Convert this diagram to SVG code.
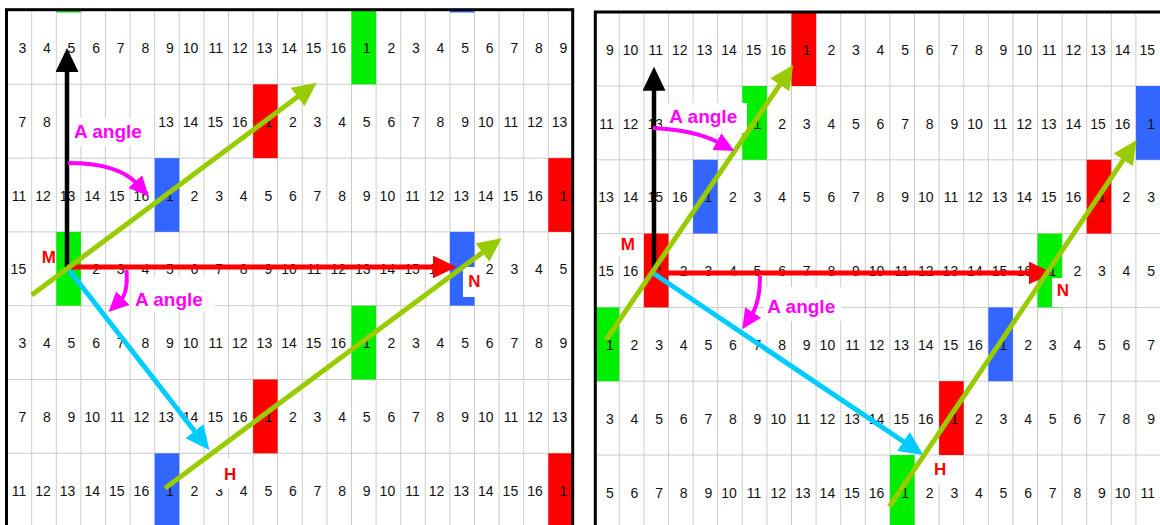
<svg xmlns="http://www.w3.org/2000/svg" width="1160" height="525" viewBox="0 0 1160 525">
<style>
.grid{stroke:#cccccc;stroke-width:1;fill:none}
.n{font-family:"Liberation Sans",Arial,sans-serif;font-size:14px;fill:#111;text-anchor:end}
.lbl{font-family:"Liberation Sans",Arial,sans-serif;font-weight:bold;font-size:19px;fill:#ff00ff}
.pt{font-family:"Liberation Sans",Arial,sans-serif;font-weight:bold;font-size:17px;fill:#ff0000}
.box{fill:#ffffff}
.g{fill:#00ee00}.r{fill:#ff0000}.b{fill:#3366ff}
.arr{fill:none;stroke-linecap:butt}
.k{stroke:#000000;stroke-width:4.5}
.rd{stroke:#ff0000;stroke-width:5}
.cy{stroke:#00ccff;stroke-width:5}
.yg{stroke:#99cc00;stroke-width:5}
.mg{stroke:#ff00ff;stroke-width:4}
.border{fill:none;stroke:#000;stroke-width:3}
</style>
<defs>
<marker id="hk" markerUnits="userSpaceOnUse" viewBox="0 0 24 23" markerWidth="24" markerHeight="23" refX="4" refY="11.5" orient="auto"><path d="M0,0L24,11.5L0,23z" fill="#000"/></marker>
<marker id="hr" markerUnits="userSpaceOnUse" viewBox="0 0 24 23" markerWidth="24" markerHeight="23" refX="4" refY="11.5" orient="auto"><path d="M0,0L24,11.5L0,23z" fill="#ff0000"/></marker>
<marker id="hc" markerUnits="userSpaceOnUse" viewBox="0 0 24 23" markerWidth="24" markerHeight="23" refX="4" refY="11.5" orient="auto"><path d="M0,0L24,11.5L0,23z" fill="#00ccff"/></marker>
<marker id="hy" markerUnits="userSpaceOnUse" viewBox="0 0 24 23" markerWidth="24" markerHeight="23" refX="4" refY="11.5" orient="auto"><path d="M0,0L24,11.5L0,23z" fill="#99cc00"/></marker>
<marker id="hm" markerUnits="userSpaceOnUse" viewBox="0 0 20 19" markerWidth="20" markerHeight="19" refX="3" refY="9.5" orient="auto"><path d="M0,0L20,9.5L0,19z" fill="#ff00ff"/></marker>
</defs>
<rect width="1160" height="525" fill="#fff"/>

<g id="left-panel">
<path class="grid" d="M31.7,10V525M56.3,10V525M80.9,10V525M105.5,10V525M130.1,10V525M154.7,10V525M179.3,10V525M203.9,10V525M228.5,10V525M253.1,10V525M277.7,10V525M302.3,10V525M326.9,10V525M351.5,10V525M376.1,10V525M400.7,10V525M425.3,10V525M449.9,10V525M474.5,10V525M499.1,10V525M523.7,10V525M548.3,10V525M6.5,84.3H573M6.5,158.1H573M6.5,231.9H573M6.5,305.7H573M6.5,379.5H573M6.5,453.3H573"/>
<rect class="g" x="56.3" y="10.5" width="24.6" height="2"/>
<rect class="b" x="449.9" y="10.5" width="24.6" height="2"/>
<rect class="g" x="351.5" y="10.5" width="24.6" height="73.8"/>
<rect class="r" x="253.1" y="84.3" width="24.6" height="73.8"/>
<rect class="b" x="154.7" y="158.1" width="24.6" height="73.8"/>
<rect class="r" x="548.3" y="158.1" width="24.6" height="73.8"/>
<rect class="g" x="56.3" y="231.9" width="24.6" height="73.8"/>
<rect class="b" x="449.9" y="231.9" width="24.6" height="73.8"/>
<rect class="g" x="351.5" y="305.7" width="24.6" height="73.8"/>
<rect class="r" x="253.1" y="379.5" width="24.6" height="73.8"/>
<rect class="b" x="154.7" y="453.3" width="24.6" height="73.8"/>
<rect class="r" x="548.3" y="453.3" width="24.6" height="73.8"/>
<text class="n" y="53"><tspan x="26.2">3</tspan><tspan x="50.8">4</tspan><tspan x="75.4">5</tspan><tspan x="100">6</tspan><tspan x="124.6">7</tspan><tspan x="149.2">8</tspan><tspan x="173.8">9</tspan><tspan x="198.4">10</tspan><tspan x="223">11</tspan><tspan x="247.6">12</tspan><tspan x="272.2">13</tspan><tspan x="296.8">14</tspan><tspan x="321.4">15</tspan><tspan x="346">16</tspan><tspan x="370.6">1</tspan><tspan x="395.2">2</tspan><tspan x="419.8">3</tspan><tspan x="444.4">4</tspan><tspan x="469">5</tspan><tspan x="493.6">6</tspan><tspan x="518.2">7</tspan><tspan x="542.8">8</tspan><tspan x="567.4">9</tspan></text>
<text class="n" y="126.8"><tspan x="26.2">7</tspan><tspan x="50.8">8</tspan><tspan x="173.8">13</tspan><tspan x="198.4">14</tspan><tspan x="223">15</tspan><tspan x="247.6">16</tspan><tspan x="272.2">1</tspan><tspan x="296.8">2</tspan><tspan x="321.4">3</tspan><tspan x="346">4</tspan><tspan x="370.6">5</tspan><tspan x="395.2">6</tspan><tspan x="419.8">7</tspan><tspan x="444.4">8</tspan><tspan x="469">9</tspan><tspan x="493.6">10</tspan><tspan x="518.2">11</tspan><tspan x="542.8">12</tspan><tspan x="567.4">13</tspan></text>
<text class="n" y="200.6"><tspan x="26.2">11</tspan><tspan x="50.8">12</tspan><tspan x="75.4">13</tspan><tspan x="100">14</tspan><tspan x="124.6">15</tspan><tspan x="149.2">16</tspan><tspan x="173.8">1</tspan><tspan x="198.4">2</tspan><tspan x="223">3</tspan><tspan x="247.6">4</tspan><tspan x="272.2">5</tspan><tspan x="296.8">6</tspan><tspan x="321.4">7</tspan><tspan x="346">8</tspan><tspan x="370.6">9</tspan><tspan x="395.2">10</tspan><tspan x="419.8">11</tspan><tspan x="444.4">12</tspan><tspan x="469">13</tspan><tspan x="493.6">14</tspan><tspan x="518.2">15</tspan><tspan x="542.8">16</tspan><tspan x="567.4">1</tspan></text>
<text class="n" y="274.4"><tspan x="26.2">15</tspan><tspan x="75.4">1</tspan><tspan x="100">2</tspan><tspan x="124.6">3</tspan><tspan x="149.2">4</tspan><tspan x="173.8">5</tspan><tspan x="198.4">6</tspan><tspan x="223">7</tspan><tspan x="247.6">8</tspan><tspan x="272.2">9</tspan><tspan x="296.8">10</tspan><tspan x="321.4">11</tspan><tspan x="346">12</tspan><tspan x="370.6">13</tspan><tspan x="395.2">14</tspan><tspan x="419.8">15</tspan><tspan x="444.4">16</tspan><tspan x="493.6">2</tspan><tspan x="518.2">3</tspan><tspan x="542.8">4</tspan><tspan x="567.4">5</tspan></text>
<text class="n" y="348.2"><tspan x="26.2">3</tspan><tspan x="50.8">4</tspan><tspan x="75.4">5</tspan><tspan x="100">6</tspan><tspan x="124.6">7</tspan><tspan x="149.2">8</tspan><tspan x="173.8">9</tspan><tspan x="198.4">10</tspan><tspan x="223">11</tspan><tspan x="247.6">12</tspan><tspan x="272.2">13</tspan><tspan x="296.8">14</tspan><tspan x="321.4">15</tspan><tspan x="346">16</tspan><tspan x="370.6">1</tspan><tspan x="395.2">2</tspan><tspan x="419.8">3</tspan><tspan x="444.4">4</tspan><tspan x="469">5</tspan><tspan x="493.6">6</tspan><tspan x="518.2">7</tspan><tspan x="542.8">8</tspan><tspan x="567.4">9</tspan></text>
<text class="n" y="422"><tspan x="26.2">7</tspan><tspan x="50.8">8</tspan><tspan x="75.4">9</tspan><tspan x="100">10</tspan><tspan x="124.6">11</tspan><tspan x="149.2">12</tspan><tspan x="173.8">13</tspan><tspan x="198.4">14</tspan><tspan x="223">15</tspan><tspan x="247.6">16</tspan><tspan x="272.2">1</tspan><tspan x="296.8">2</tspan><tspan x="321.4">3</tspan><tspan x="346">4</tspan><tspan x="370.6">5</tspan><tspan x="395.2">6</tspan><tspan x="419.8">7</tspan><tspan x="444.4">8</tspan><tspan x="469">9</tspan><tspan x="493.6">10</tspan><tspan x="518.2">11</tspan><tspan x="542.8">12</tspan><tspan x="567.4">13</tspan></text>
<text class="n" y="495.8"><tspan x="26.2">11</tspan><tspan x="50.8">12</tspan><tspan x="75.4">13</tspan><tspan x="100">14</tspan><tspan x="124.6">15</tspan><tspan x="149.2">16</tspan><tspan x="173.8">1</tspan><tspan x="198.4">2</tspan><tspan x="223">3</tspan><tspan x="247.6">4</tspan><tspan x="272.2">5</tspan><tspan x="296.8">6</tspan><tspan x="321.4">7</tspan><tspan x="346">8</tspan><tspan x="370.6">9</tspan><tspan x="395.2">10</tspan><tspan x="419.8">11</tspan><tspan x="444.4">12</tspan><tspan x="469">13</tspan><tspan x="493.6">14</tspan><tspan x="518.2">15</tspan><tspan x="542.8">16</tspan><tspan x="567.4">1</tspan></text>
<rect class="box" x="69" y="118" width="84" height="28"/>
<rect class="box" x="131" y="277" width="84" height="35"/>
<rect class="box" x="34" y="244" width="22" height="22"/>
<rect class="box" x="463" y="267" width="22" height="30"/>
<rect class="box" x="212" y="458" width="28" height="31"/>
<rect class="border" x="6.5" y="9.7" width="566.2" height="560"/>
</g>

<g id="right-panel">
<path class="grid" d="M619.3,12V525M643.9,12V525M668.5,12V525M693.1,12V525M717.7,12V525M742.3,12V525M766.9,12V525M791.5,12V525M816.1,12V525M840.7,12V525M865.3,12V525M889.9,12V525M914.5,12V525M939.1,12V525M963.7,12V525M988.3,12V525M1012.9,12V525M1037.5,12V525M1062.1,12V525M1086.7,12V525M1111.3,12V525M1135.9,12V525M595,86H1160M595,159.8H1160M595,233.6H1160M595,307.4H1160M595,381.2H1160M595,455H1160"/>
<rect class="r" x="791.5" y="12.2" width="24.6" height="73.8"/>
<rect class="g" x="742.3" y="86" width="24.6" height="73.8"/>
<rect class="b" x="1135.9" y="86" width="24.6" height="73.8"/>
<rect class="b" x="693.1" y="159.8" width="24.6" height="73.8"/>
<rect class="r" x="1086.7" y="159.8" width="24.6" height="73.8"/>
<rect class="r" x="643.9" y="233.6" width="24.6" height="73.8"/>
<rect class="g" x="1037.5" y="233.6" width="24.6" height="73.8"/>
<rect class="g" x="595" y="307.4" width="24.3" height="73.8"/>
<rect class="b" x="988.3" y="307.4" width="24.6" height="73.8"/>
<rect class="r" x="939.1" y="381.2" width="24.6" height="73.8"/>
<rect class="g" x="889.9" y="455" width="24.6" height="73.8"/>
<text class="n" y="54.7"><tspan x="613.8">9</tspan><tspan x="638.4">10</tspan><tspan x="663">11</tspan><tspan x="687.6">12</tspan><tspan x="712.2">13</tspan><tspan x="736.8">14</tspan><tspan x="761.4">15</tspan><tspan x="786">16</tspan><tspan x="810.6">1</tspan><tspan x="835.2">2</tspan><tspan x="859.8">3</tspan><tspan x="884.4">4</tspan><tspan x="909">5</tspan><tspan x="933.6">6</tspan><tspan x="958.2">7</tspan><tspan x="982.8">8</tspan><tspan x="1007.4">9</tspan><tspan x="1032">10</tspan><tspan x="1056.6">11</tspan><tspan x="1081.2">12</tspan><tspan x="1105.8">13</tspan><tspan x="1130.4">14</tspan><tspan x="1155">15</tspan></text>
<text class="n" y="128.5"><tspan x="613.8">11</tspan><tspan x="638.4">12</tspan><tspan x="663">13</tspan><tspan x="761.4">1</tspan><tspan x="786">2</tspan><tspan x="810.6">3</tspan><tspan x="835.2">4</tspan><tspan x="859.8">5</tspan><tspan x="884.4">6</tspan><tspan x="909">7</tspan><tspan x="933.6">8</tspan><tspan x="958.2">9</tspan><tspan x="982.8">10</tspan><tspan x="1007.4">11</tspan><tspan x="1032">12</tspan><tspan x="1056.6">13</tspan><tspan x="1081.2">14</tspan><tspan x="1105.8">15</tspan><tspan x="1130.4">16</tspan><tspan x="1155">1</tspan></text>
<text class="n" y="202.3"><tspan x="613.8">13</tspan><tspan x="638.4">14</tspan><tspan x="663">15</tspan><tspan x="687.6">16</tspan><tspan x="712.2">1</tspan><tspan x="736.8">2</tspan><tspan x="761.4">3</tspan><tspan x="786">4</tspan><tspan x="810.6">5</tspan><tspan x="835.2">6</tspan><tspan x="859.8">7</tspan><tspan x="884.4">8</tspan><tspan x="909">9</tspan><tspan x="933.6">10</tspan><tspan x="958.2">11</tspan><tspan x="982.8">12</tspan><tspan x="1007.4">13</tspan><tspan x="1032">14</tspan><tspan x="1056.6">15</tspan><tspan x="1081.2">16</tspan><tspan x="1105.8">1</tspan><tspan x="1130.4">2</tspan><tspan x="1155">3</tspan></text>
<text class="n" y="276.1"><tspan x="613.8">15</tspan><tspan x="638.4">16</tspan><tspan x="663">1</tspan><tspan x="687.6">2</tspan><tspan x="712.2">3</tspan><tspan x="736.8">4</tspan><tspan x="761.4">5</tspan><tspan x="786">6</tspan><tspan x="810.6">7</tspan><tspan x="835.2">8</tspan><tspan x="859.8">9</tspan><tspan x="884.4">10</tspan><tspan x="909">11</tspan><tspan x="933.6">12</tspan><tspan x="958.2">13</tspan><tspan x="982.8">14</tspan><tspan x="1007.4">15</tspan><tspan x="1032">16</tspan><tspan x="1056.6">1</tspan><tspan x="1081.2">2</tspan><tspan x="1105.8">3</tspan><tspan x="1130.4">4</tspan><tspan x="1155">5</tspan></text>
<text class="n" y="349.9"><tspan x="613.8">1</tspan><tspan x="638.4">2</tspan><tspan x="663">3</tspan><tspan x="687.6">4</tspan><tspan x="712.2">5</tspan><tspan x="736.8">6</tspan><tspan x="761.4">7</tspan><tspan x="786">8</tspan><tspan x="810.6">9</tspan><tspan x="835.2">10</tspan><tspan x="859.8">11</tspan><tspan x="884.4">12</tspan><tspan x="909">13</tspan><tspan x="933.6">14</tspan><tspan x="958.2">15</tspan><tspan x="982.8">16</tspan><tspan x="1007.4">1</tspan><tspan x="1032">2</tspan><tspan x="1056.6">3</tspan><tspan x="1081.2">4</tspan><tspan x="1105.8">5</tspan><tspan x="1130.4">6</tspan><tspan x="1155">7</tspan></text>
<text class="n" y="423.7"><tspan x="613.8">3</tspan><tspan x="638.4">4</tspan><tspan x="663">5</tspan><tspan x="687.6">6</tspan><tspan x="712.2">7</tspan><tspan x="736.8">8</tspan><tspan x="761.4">9</tspan><tspan x="786">10</tspan><tspan x="810.6">11</tspan><tspan x="835.2">12</tspan><tspan x="859.8">13</tspan><tspan x="884.4">14</tspan><tspan x="909">15</tspan><tspan x="933.6">16</tspan><tspan x="958.2">1</tspan><tspan x="982.8">2</tspan><tspan x="1007.4">3</tspan><tspan x="1032">4</tspan><tspan x="1056.6">5</tspan><tspan x="1081.2">6</tspan><tspan x="1105.8">7</tspan><tspan x="1130.4">8</tspan><tspan x="1155">9</tspan></text>
<text class="n" y="497.5"><tspan x="613.8">5</tspan><tspan x="638.4">6</tspan><tspan x="663">7</tspan><tspan x="687.6">8</tspan><tspan x="712.2">9</tspan><tspan x="736.8">10</tspan><tspan x="761.4">11</tspan><tspan x="786">12</tspan><tspan x="810.6">13</tspan><tspan x="835.2">14</tspan><tspan x="859.8">15</tspan><tspan x="884.4">16</tspan><tspan x="909">1</tspan><tspan x="933.6">2</tspan><tspan x="958.2">3</tspan><tspan x="982.8">4</tspan><tspan x="1007.4">5</tspan><tspan x="1032">6</tspan><tspan x="1056.6">7</tspan><tspan x="1081.2">8</tspan><tspan x="1105.8">9</tspan><tspan x="1130.4">10</tspan><tspan x="1155">11</tspan></text>
<rect class="box" x="662" y="103" width="85" height="30"/>
<rect class="box" x="764" y="287" width="78" height="34"/>
<rect class="box" x="617" y="234" width="24" height="22"/>
<rect class="box" x="1052" y="278" width="22" height="29"/>
<rect class="box" x="931" y="458" width="18" height="25"/>
<path class="border" d="M595.3,525V12H1162"/>
</g>

<g id="connectors">
<path class="arr k" d="M67,267V68" marker-end="url(#hk)"/>
<path class="arr rd" d="M66.7,267H436.7" marker-end="url(#hr)"/>
<path class="arr cy" d="M66.7,267L197,434.2" marker-end="url(#hc)"/>
<path class="arr yg" d="M31.7,295L300.7,94.6" marker-end="url(#hy)"/>
<path class="arr yg" d="M165,488.3L485.6,250.2" marker-end="url(#hy)"/>
<path class="arr mg" d="M68,163Q118,163 137.2,183.8" marker-end="url(#hm)"/>
<path class="arr mg" d="M126.5,270Q128,293 120.7,300.1" marker-end="url(#hm)"/>
<path class="arr k" d="M654,273V86.7" marker-end="url(#hk)"/>
<path class="arr rd" d="M653,273H1032.7" marker-end="url(#hr)"/>
<path class="arr cy" d="M653,273L906.7,443.8" marker-end="url(#hc)"/>
<path class="arr yg" d="M606,340L782,81.5" marker-end="url(#hy)"/>
<path class="arr yg" d="M889.3,506.7L1125.5,156.6" marker-end="url(#hy)"/>
<path class="arr mg" d="M653,128Q695,130 719.5,143" marker-end="url(#hm)"/>
<path class="arr mg" d="M760,276Q760,302 751.5,315" marker-end="url(#hm)"/>
</g>

<g id="labels">
<text class="lbl" x="74" y="138">A angle</text>
<text class="lbl" x="135" y="305.5">A angle</text>
<text class="pt" x="41.7" y="262.7">M</text>
<text class="pt" x="468.3" y="286.7">N</text>
<text class="pt" x="224" y="480">H</text>
<text class="lbl" x="669.3" y="122.7">A angle</text>
<text class="lbl" x="767.3" y="313.3">A angle</text>
<text class="pt" x="620.7" y="250">M</text>
<text class="pt" x="1056.7" y="296">N</text>
<text class="pt" x="934" y="475">H</text>
</g>
</svg>
